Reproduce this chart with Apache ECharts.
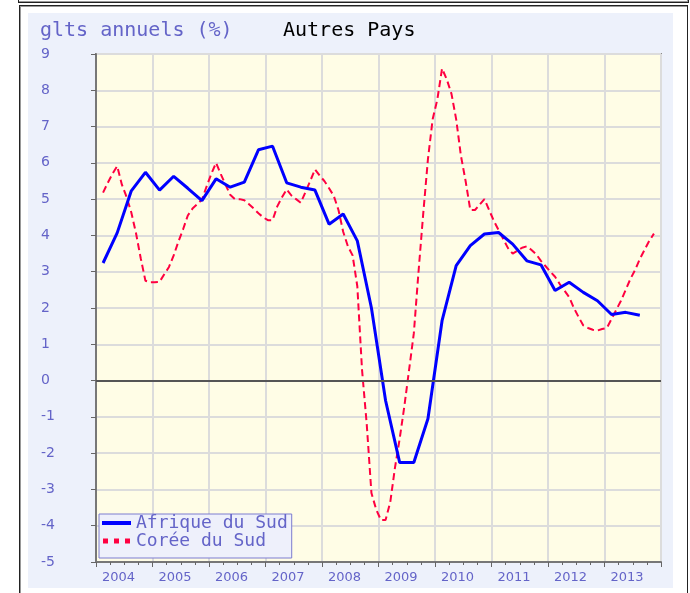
<!DOCTYPE html>
<html>
<head>
<meta charset="utf-8">
<script src="https://cdn.jsdelivr.net/npm/echarts@6/dist/echarts.min.js"></script>
<style>
  body { margin: 0; background: #fff; }
  #wrap { position: relative; width: 690px; height: 593px; overflow: hidden; }
  .topbox { position: absolute; left: 18px; top: -10px; width: 669px; height: 11px;
    border: 1px solid #222; box-shadow: inset -1px -1px 0 #999; }
  .frame { position: absolute; left: 19px; top: 5px; width: 667px; height: 620px;
    border: 1px solid #222; box-shadow: inset 1px 1px 0 #999; }
  .panel { position: absolute; left: 28px; top: 13px; width: 645px; height: 575px; background: #edf1fb; }
  #chart { position: absolute; left: 0; top: 0; width: 690px; height: 593px; }
</style>
</head>
<body>
<div id="wrap">
  <div class="topbox"></div>
  <div class="frame"></div>
  <div class="panel"></div>
  <div id="chart"></div>
</div>
<script>
const LABEL_BLUE = '#6464c8'
const MONO = 'DejaVu Sans Mono'

const years = [2004, 2005, 2006, 2007, 2008, 2009, 2010, 2011, 2012, 2013]

// Afrique du Sud : trimestriel, 2004 T1 -> 2013 T3
const afriqueDuSud = [
  3.24, 4.07, 5.23, 5.74,
  5.25, 5.63, 5.30, 4.96,
  5.56, 5.33, 5.47, 6.36,
  6.46, 5.45, 5.33, 5.25,
  4.31, 4.59, 3.85, 2.00,
  -0.55, -2.26, -2.26, -1.05,
  1.65, 3.17, 3.72, 4.04,
  4.08, 3.76, 3.30, 3.19,
  2.48, 2.71, 2.43, 2.20,
  1.82, 1.88, 1.80
]

// Corée du Sud : mensuel, fév. 2004 -> nov. 2013
const coreeDuSud = [
  5.18, 5.45, 5.7, 5.91, 5.4, 5.06, 4.63, 4.06, 3.37, 2.75, 2.71,
  2.71, 2.72, 2.93, 3.13, 3.45, 3.83, 4.17, 4.55, 4.74, 4.86, 4.99, 5.35,
  5.7, 6.0, 5.69, 5.4, 5.12, 5.0, 5.0, 4.97, 4.86, 4.74, 4.61, 4.5,
  4.42, 4.42, 4.8, 5.05, 5.27, 5.1, 5.0, 4.9, 5.2, 5.5, 5.82, 5.65,
  5.5, 5.3, 5.09, 4.7, 4.1, 3.7, 3.45, 2.6, 0.3, -1.2, -3.1, -3.55,
  -3.84, -3.84, -3.35, -2.4, -1.6, -0.7, 0.3, 1.3, 3.0, 4.6, 6.1, 7.2,
  7.75, 8.6, 8.3, 7.9, 7.2, 6.2, 5.5, 4.7, 4.7, 4.85, 5.0, 4.7,
  4.4, 4.15, 3.9, 3.65, 3.5, 3.58, 3.66, 3.7, 3.6, 3.48, 3.3, 3.15,
  3.0, 2.86, 2.66, 2.48, 2.3, 2.0, 1.75, 1.52, 1.45, 1.4, 1.38, 1.42,
  1.45, 1.7, 1.95, 2.2, 2.5, 2.8, 3.05, 3.35, 3.6, 3.85, 4.05
]
const coreeFirstMonth = 2 // février 2004

// points placés au milieu de la période
const afriquePts = afriqueDuSud.map((v, i) => [years[0] + i * 0.25 + 0.125, v])
const coreePts = coreeDuSud.map((v, i) => [years[0] + (coreeFirstMonth - 1 + i + 0.5) / 12, v])

const chart = echarts.init(document.getElementById('chart'))

chart.setOption({
  backgroundColor: 'transparent',
  animation: false,
  title: [
    {
      text: 'glts annuels (%)',
      left: 40, top: 21, padding: 0,
      textStyle: { fontFamily: MONO, fontSize: 20, fontWeight: 'normal', color: LABEL_BLUE, lineHeight: 20 }
    },
    {
      text: 'Autres Pays',
      left: 283, top: 21, padding: 0,
      textStyle: { fontFamily: MONO, fontSize: 20, fontWeight: 'normal', color: '#000', lineHeight: 20 }
    }
  ],
  legend: {
    orient: 'vertical',
    left: 99, top: 514,
    selectedMode: false,
    backgroundColor: '#eef0fb',
    borderColor: '#7c7cd0',
    borderWidth: 1,
    borderRadius: 0,
    padding: [0, 4, 8, 3],
    itemWidth: 29,
    itemHeight: 5,
    itemGap: 0,
    itemStyle: { borderWidth: 0 },
    textStyle: { fontFamily: MONO, fontSize: 18, color: LABEL_BLUE, lineHeight: 17 },
    data: [
      { name: 'Afrique du Sud', icon: 'path://M0,0h29v4h-29z' },
      { name: 'Corée du Sud', icon: 'path://M0,0h5v5h-5z M11,0h5v5h-5z M22,0h5v5h-5z' }
    ]
  },
  grid: {
    left: 96, right: 29, top: 54, bottom: 31,
    show: true,
    backgroundColor: '#fffde6',
    borderColor: '#8a8a8a',
    borderWidth: 2
  },
  xAxis: {
    type: 'value',
    min: 2004, max: 2014, interval: 1,
    axisLine: { show: true, onZero: false, lineStyle: { color: '#777', width: 2 } },
    axisTick: { show: true, length: 5, lineStyle: { color: '#666' } },
    minorTick: { show: true, splitNumber: 4, length: 3, lineStyle: { color: '#666' } },
    splitLine: { show: true, lineStyle: { color: '#dcdcdc', width: 2 } },
    axisLabel: {
      showMaxLabel: false,
      align: 'left',
      padding: [0, 0, 0, 6],
      margin: 9,
      color: LABEL_BLUE,
      fontFamily: 'DejaVu Sans',
      fontSize: 13,
      formatter: (v) => String(v)
    }
  },
  yAxis: {
    type: 'value',
    min: -5, max: 9, interval: 1,
    axisLine: { show: true, onZero: false, lineStyle: { color: '#777', width: 2 } },
    axisTick: { show: true, length: 5, lineStyle: { color: '#666' } },
    splitLine: { show: true, lineStyle: { color: '#dcdcdc', width: 2 } },
    axisLabel: {
      align: 'left',
      margin: 55,
      color: LABEL_BLUE,
      fontFamily: 'DejaVu Sans',
      fontSize: 14
    }
  },
  series: [
    {
      name: 'Corée du Sud',
      type: 'line',
      data: coreePts,
      showSymbol: false,
      z: 2,
      itemStyle: { color: '#ff0040' },
      lineStyle: { color: '#ff0040', width: 2, type: [7, 4] },
      markLine: {
        silent: true,
        symbol: ['none', 'none'],
        label: { show: false },
        lineStyle: { color: '#555', width: 2, type: 'solid' },
        data: [{ yAxis: 0 }]
      }
    },
    {
      name: 'Afrique du Sud',
      type: 'line',
      data: afriquePts,
      showSymbol: false,
      z: 3,
      itemStyle: { color: '#0000ff' },
      lineStyle: { color: '#0000ff', width: 3 }
    }
  ]
})
</script>
</body>
</html>
